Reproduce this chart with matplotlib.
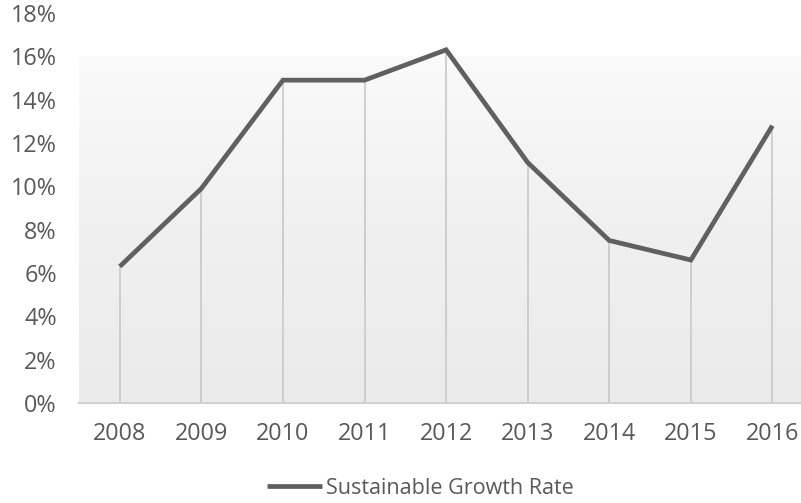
import matplotlib
matplotlib.use("Agg")
import matplotlib.pyplot as plt
import numpy as np
from matplotlib.colors import LinearSegmentedColormap

years = ["2008", "2009", "2010", "2011", "2012", "2013", "2014", "2015", "2016"]
growth = [0.063, 0.099, 0.149, 0.149, 0.163, 0.111, 0.075, 0.066, 0.128]
series_name = "Sustainable Growth Rate"
y_ticks = [0.00, 0.02, 0.04, 0.06, 0.08, 0.10, 0.12, 0.14, 0.16, 0.18]

plt.rcParams['font.family'] = ['Open Sans', 'DejaVu Sans']
txt = '#595959'

fig = plt.figure(figsize=(8.01, 5.03), dpi=100)
W, H = 801, 503
left, right = 79, 801
top, bottom = 13, 403
ax = fig.add_axes([left / W, (H - bottom) / H, (right - left) / W, (bottom - top) / H])

x = np.arange(len(years))

# gradient background from 0 to 16%
cmap = LinearSegmentedColormap.from_list('bg', ['#ebebeb', '#f0f0f0', '#fafafa'])
grad = np.linspace(0, 1, 256).reshape(-1, 1)
ax.imshow(grad, cmap=cmap, origin='lower', aspect='auto',
          extent=(-0.5, 9.0, 0, 0.16), zorder=0, interpolation='bilinear')
ax.set_xlim(-0.5, 8.35)
ax.set_ylim(0, 0.18)

# drop lines
ax.vlines(x, 0, growth, colors='#c8c8c8', linewidth=1.2, zorder=1)

ax.plot(x, growth, color='#606060', linewidth=3.4, solid_joinstyle='miter',
        solid_capstyle='butt', zorder=3, label=series_name)

for s in ['top', 'right', 'left']:
    ax.spines[s].set_visible(False)
ax.spines['bottom'].set_color('#d0d0d0')
ax.spines['bottom'].set_linewidth(1.5)

ax.set_yticks(y_ticks)
ax.set_yticklabels([f"{int(round(v * 100))}%" for v in y_ticks])
ax.set_xticks(x)
ax.set_xticklabels(years)
ax.tick_params(axis='y', length=0, pad=16, labelsize=16.8, labelcolor=txt)
ax.tick_params(axis='x', length=0, pad=14, labelsize=16.8, labelcolor=txt)

leg = fig.legend(loc='center', bbox_to_anchor=(420 / W, 15 / H), frameon=False,
                 fontsize=15.5, handlelength=2.6, handletextpad=0.15,
                 labelcolor=txt)

fig.savefig("out.png", dpi=100, facecolor='white')
